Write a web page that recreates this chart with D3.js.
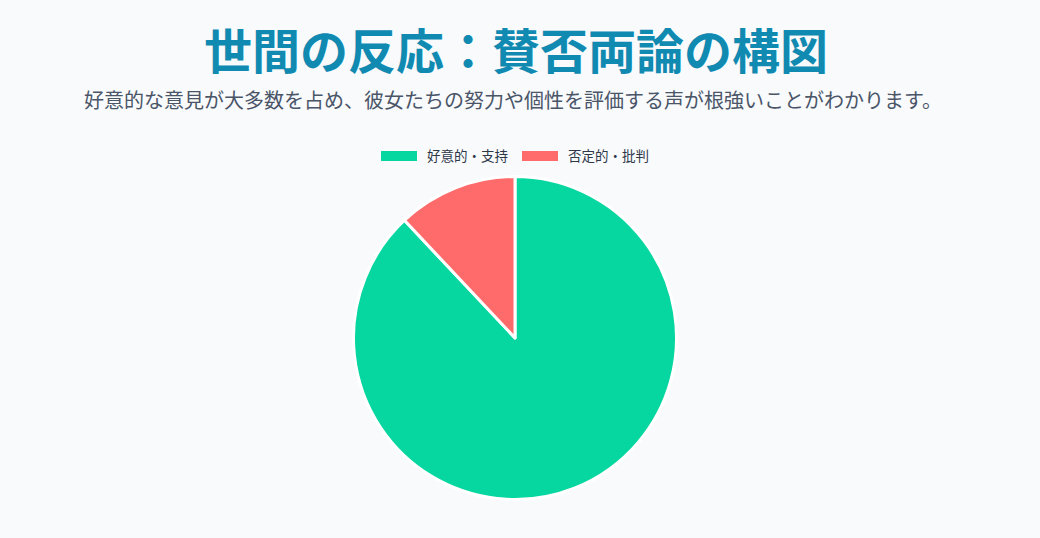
<!DOCTYPE html>
<html>
<head>
<meta charset="utf-8">
<script src="https://cdn.jsdelivr.net/npm/d3@7"></script>
<style>
  html, body { margin: 0; padding: 0; background: #f8fafc; }
  body { width: 1040px; height: 538px; overflow: hidden; font-family: "Noto Sans CJK JP", "Noto Sans", sans-serif; }
</style>
</head>
<body>
<div id="chart"></div>
<script>
// data
let labels = ["好意的・支持", "否定的・批判"];
let values = [88, 12];
let colors = ["#06D6A0", "#FF6B6B"];

let title = "世間の反応：賛否両論の構図";
let subtitle = "好意的な意見が大多数を占め、彼女たちの努力や個性を評価する声が根強いことがわかります。";

let svgWidth = 1040, svgHeight = 538;
let cx = 515, cy = 338, radius = 161.5;

let svg = d3.select("#chart").append("svg")
    .attr("width", svgWidth)
    .attr("height", svgHeight);

svg.append("text")
    .text(title)
    .attr("x", 516)
    .attr("y", 69)
    .attr("text-anchor", "middle")
    .attr("font-size", "48px")
    .attr("font-weight", "bold")
    .attr("fill", "#118AB2");

svg.append("text")
    .text(subtitle)
    .attr("x", 513)
    .attr("y", 108)
    .attr("text-anchor", "middle")
    .attr("font-size", "20px")
    .attr("fill", "#4a5568");

// legend
let legendX = [381, 522];
let legend = svg.selectAll(".legend")
    .data(labels)
    .enter()
    .append("g")
    .attr("transform", function(d, i) { return "translate(" + legendX[i] + ",151)"; });

legend.append("rect")
    .attr("width", 36)
    .attr("height", 10)
    .attr("fill", function(d, i) { return colors[i]; });

legend.append("text")
    .text(function(d) { return d; })
    .attr("x", 46)
    .attr("y", 9.5)
    .attr("font-size", "13.5px")
    .attr("fill", "#2d3748");

// pie
let pie = d3.pie().sort(null)(values);
let arc = d3.arc().innerRadius(0).outerRadius(radius);

svg.append("g")
    .attr("transform", "translate(" + cx + "," + cy + ")")
    .selectAll("path")
    .data(pie)
    .enter()
    .append("path")
    .attr("d", arc)
    .attr("fill", function(d, i) { return colors[i]; })
    .attr("stroke", "#ffffff")
    .attr("stroke-width", 3)
    .attr("stroke-linejoin", "round");
</script>
</body>
</html>
